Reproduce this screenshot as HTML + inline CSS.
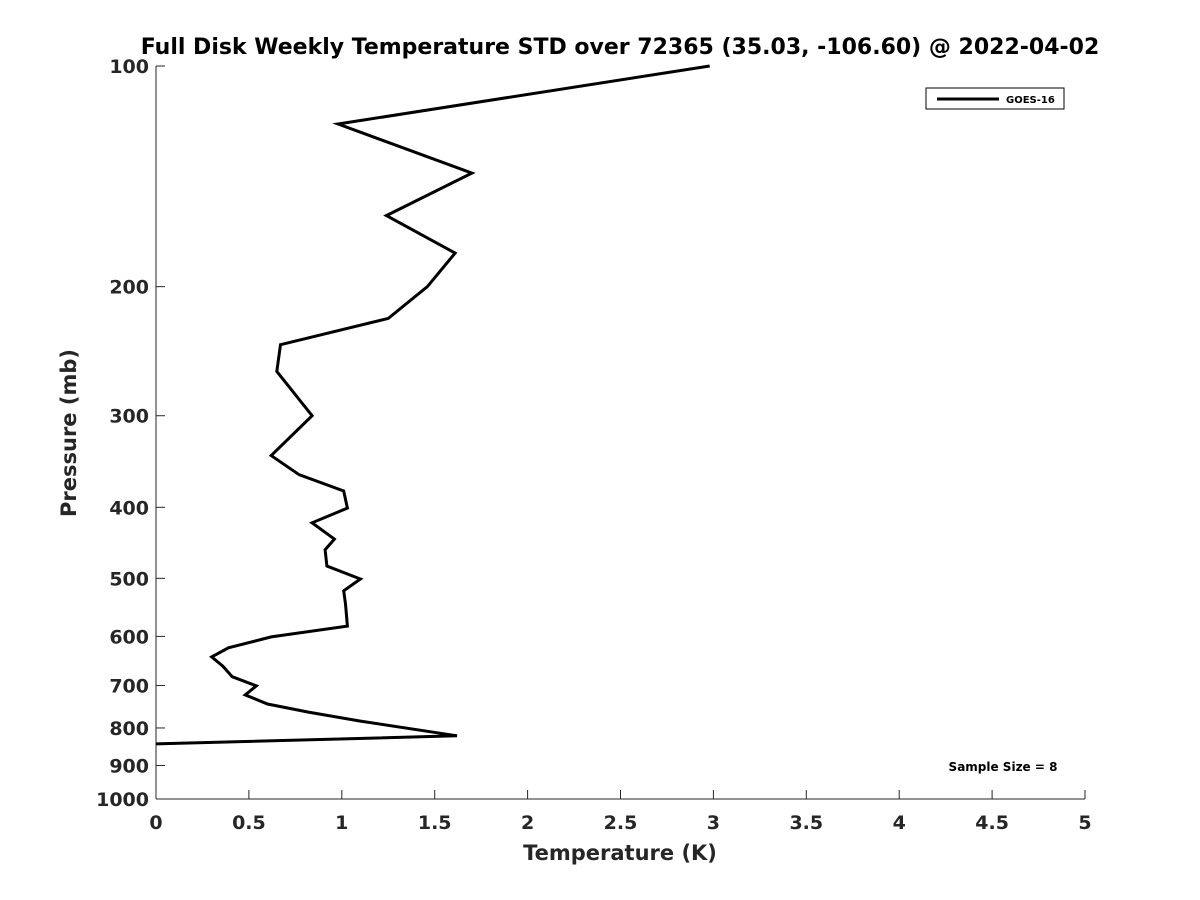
<!DOCTYPE html>
<html><head><meta charset="utf-8"><style>
body{margin:0;background:#fff;}
svg{display:block;font-family:"DejaVu Sans","Liberation Sans",sans-serif;}
</style></head><body>
<svg id="chart" width="1200" height="900">
<rect width="1200" height="900" fill="#fff"/>
<text x="620" y="54" text-anchor="middle" font-size="22" font-weight="bold" fill="#000">Full Disk Weekly Temperature STD over 72365 (35.03, -106.60) @ 2022-04-02</text>
<g id="axes"></g>
<g id="series"></g>
<g>
<rect x="926" y="88" width="138" height="21" fill="#fff" stroke="#000" stroke-width="1"/>
<line x1="937" y1="99" x2="999" y2="99" stroke="#000" stroke-width="3"/>
<text x="1006" y="103" font-size="10" font-weight="bold">GOES-16</text>
</g>
<text x="1003" y="771" text-anchor="middle" font-size="12" font-weight="bold">Sample Size = 8</text>
<text x="620" y="860" text-anchor="middle" font-size="21" font-weight="bold" fill="#262626">Temperature (K)</text>
<text transform="translate(76,433) rotate(-90)" text-anchor="middle" font-size="21" font-weight="bold" fill="#262626">Pressure (mb)</text>
</svg>
<script>
const xTicks=[0,0.5,1,1.5,2,2.5,3,3.5,4,4.5,5];
const xTickLabels=["0","0.5","1","1.5","2","2.5","3","3.5","4","4.5","5"];
const yTicks=[100,200,300,400,500,600,700,800,900,1000];
const yTickLabels=["100","200","300","400","500","600","700","800","900","1000"];
const pressure=[100,120,140,160,180,200,221,240,261,300,340,361,380,401,420,442,457,481,501,520,542,581,601,622,640,659,681,701,721,742,761,783,820,841];
const tempStd=[2.98,0.98,1.70,1.24,1.61,1.46,1.25,0.67,0.65,0.84,0.62,0.77,1.01,1.03,0.84,0.96,0.91,0.92,1.10,1.01,1.02,1.03,0.62,0.39,0.30,0.36,0.41,0.54,0.48,0.60,0.82,1.10,1.62,0.0];
const X0=156,X1=1085,Y0=66,Y1=799;
const xs=v=>X0+(v-0)/(5-0)*(X1-X0);
const ys=p=>Y0+Math.log10(p/100)/Math.log10(1000/100)*(Y1-Y0);
const NS="http://www.w3.org/2000/svg";
const axes=document.getElementById('axes'),series=document.getElementById('series');
function mk(t,a,parent){const e=document.createElementNS(NS,t);for(const k in a)e.setAttribute(k,a[k]);parent.appendChild(e);return e;}
const xl=mk('line',{x1:X0,y1:Y1,x2:X1,y2:Y1,stroke:'#262626','stroke-width':1},axes);


const yl=mk('line',{x1:X0,y1:Y0,x2:X0,y2:Y1,stroke:'#262626','stroke-width':1},axes);


xTicks.forEach((v,i)=>{
  mk('line',{x1:xs(v),y1:Y1,x2:xs(v),y2:Y1-9,stroke:'#262626'},axes);
  const t=mk('text',{x:xs(v),y:Y1+30,'text-anchor':'middle','font-size':19,'font-weight':'bold',fill:'#262626'},axes);
  t.textContent=xTickLabels[i];
  
  
});
yTicks.forEach((p,i)=>{
  mk('line',{x1:X0,y1:ys(p),x2:X0+9,y2:ys(p),stroke:'#262626'},axes);
  const t=mk('text',{x:X0-7,y:ys(p)+7,'text-anchor':'end','font-size':19,'font-weight':'bold',fill:'#262626'},axes);
  t.textContent=yTickLabels[i];
  
  
});
const pts=pressure.map((p,i)=>xs(tempStd[i]).toFixed(1)+','+ys(p).toFixed(1)).join(' ');
const pl=mk('polyline',{points:pts,fill:'none',stroke:'#000','stroke-width':3,'stroke-linejoin':'miter'},series);


</script>
</body></html>
